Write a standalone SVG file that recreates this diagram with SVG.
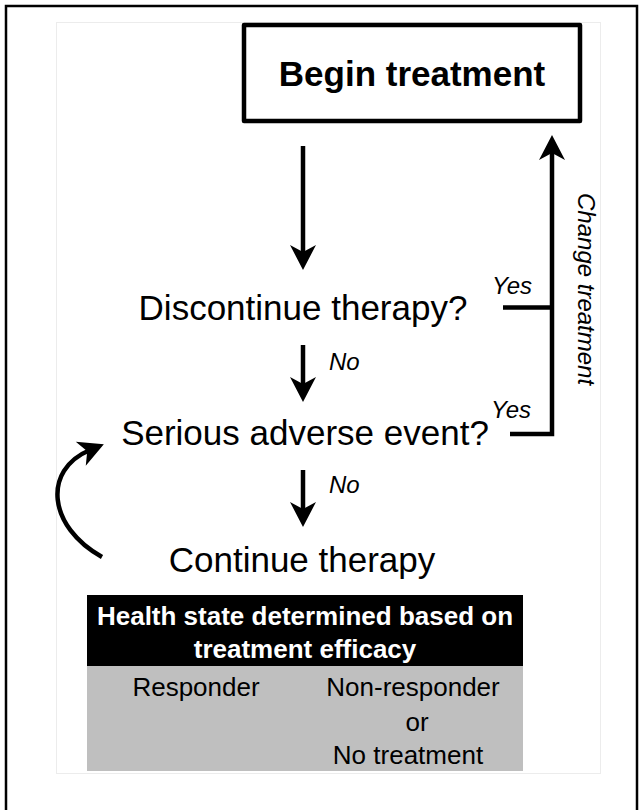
<svg xmlns="http://www.w3.org/2000/svg" width="641" height="810" viewBox="0 0 641 810">
  <style>
    text { font-family: "Liberation Sans", Arial, sans-serif; fill: #000; }
    .q { font-size: 35px; text-anchor: middle; }
    .lbl { font-size: 24px; font-style: italic; }
    .hdr { font-size: 26px; font-weight: bold; fill: #fff; text-anchor: middle; }
    .st { font-size: 26px; text-anchor: middle; }
    .conn { fill: none; stroke: #000; stroke-width: 4.5; }
  </style>
  <defs>
    <marker id="ah" markerUnits="userSpaceOnUse" viewBox="-12 -14 30 28" refX="0" refY="0" markerWidth="30" markerHeight="28" orient="auto">
      <path d="M15,0 L-10,-13 L-3,0 L-10,13 Z" fill="#000"/>
    </marker>
  </defs>

  <rect id="outer-frame" x="6" y="6" width="631" height="812" fill="#fff" stroke="#000" stroke-width="2.5"/>
  <rect id="inner-frame" x="56.5" y="22.5" width="544" height="751" fill="none" stroke="#ececec" stroke-width="1"/>

  <g id="begin-treatment">
    <rect x="244" y="25" width="336" height="96" fill="#fff" stroke="#000" stroke-width="4.5" stroke-linejoin="round"/>
    <text x="412" y="86" font-size="35" font-weight="bold" text-anchor="middle">Begin treatment</text>
  </g>

  <g id="discontinue-therapy">
    <text class="q" x="303" y="320">Discontinue therapy?</text>
  </g>

  <g id="serious-adverse-event">
    <text class="q" x="305" y="445">Serious adverse event?</text>
  </g>

  <g id="continue-therapy">
    <text class="q" x="302" y="572">Continue therapy</text>
  </g>

  <g id="health-state">
    <rect x="87" y="595" width="436" height="71" fill="#000"/>
    <text class="hdr" x="305" y="625">Health state determined based on</text>
    <text class="hdr" x="305" y="658">treatment efficacy</text>
    <rect x="87" y="666" width="436" height="105" fill="#bfbfbf"/>
    <text class="st" x="196" y="696">Responder</text>
    <text class="st" x="413" y="696">Non-responder</text>
    <text class="st" x="417" y="731">or</text>
    <text class="st" x="408" y="764">No treatment</text>
  </g>

  <g id="connectors">
    <line class="conn" x1="303" y1="146" x2="303" y2="255" marker-end="url(#ah)"/>
    <line class="conn" x1="303" y1="345" x2="303" y2="387" marker-end="url(#ah)"/>
    <line class="conn" x1="303" y1="470" x2="303" y2="512" marker-end="url(#ah)"/>
    <line class="conn" x1="503" y1="307.5" x2="552" y2="307.5"/>
    <path class="conn" stroke-linejoin="miter" d="M510,434 H552 V150" marker-end="url(#ah)"/>
    <path class="conn" d="M102,557 C48,527 42,470 90,450" marker-end="url(#ah)"/>
  </g>

  <g id="connector-labels">
    <text class="lbl" x="329" y="370">No</text>
    <text class="lbl" x="329" y="493">No</text>
    <text class="lbl" x="492" y="294">Yes</text>
    <text class="lbl" x="491" y="418">Yes</text>
    <text class="lbl" font-size="26.5" transform="translate(578,193) rotate(90)">Change treatment</text>
  </g>
</svg>
